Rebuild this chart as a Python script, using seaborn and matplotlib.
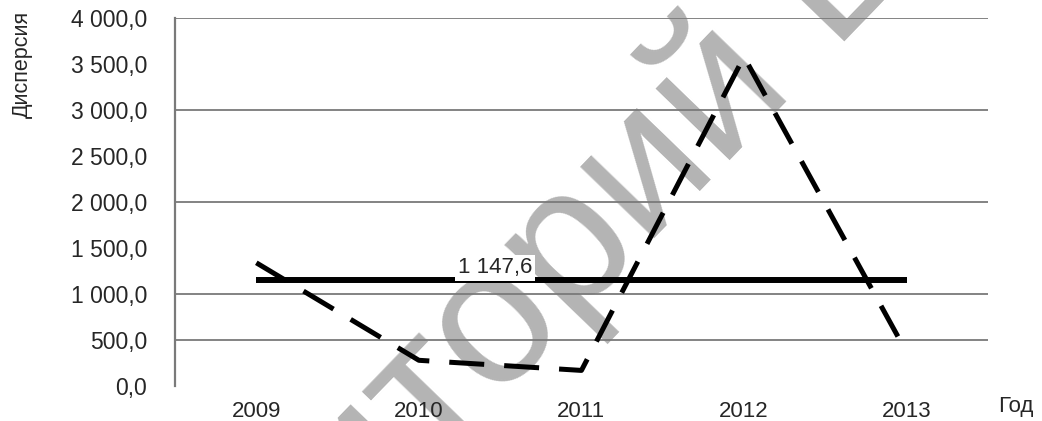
import pandas as pd
import matplotlib.pyplot as plt
import seaborn as sns

# values
years = ["2009", "2010", "2011", "2012", "2013"]
variance = [1340, 280, 170, 3580, 368]
mean_value = 1147.6
y_ticks = [0, 500, 1000, 1500, 2000, 2500, 3000, 3500, 4000]
grid_values = [500, 1000, 2000, 3000, 4000]
boundaries = [-0.5, 0.5, 1.5, 2.5, 3.5, 4.5]

df = pd.DataFrame({"year": years, "variance": variance})

sns.set_style("white")
plt.rcParams["font.family"] = ["Liberation Sans", "DejaVu Sans"]

fig = plt.figure(figsize=(10.42, 4.21), dpi=100)
ax = fig.add_axes([0.168, 0.083, 0.78, 0.874])

# watermark under the data
ax.text(0.525, 0.35, "Репозиторий БГЭУ", transform=fig.transFigure,
        fontsize=140, color="#b4b4b4", rotation=46, rotation_mode="anchor",
        ha="center", va="center", clip_on=False, zorder=0.5)

for v in grid_values:
    ax.axhline(v, color="#7a7a7a", lw=1.3, zorder=1)

sns.lineplot(data=df, x="year", y="variance", ax=ax, color="black",
             lw=3.6, dashes=False, zorder=3, linestyle=(0, (7, 4)))
ax.plot(years, [mean_value] * len(years), color="black", lw=4.3, zorder=3,
        solid_capstyle="butt")

ax.text(1.47, mean_value + 25, "1 147,6", fontsize=16, ha="center", va="bottom",
        zorder=4, bbox=dict(boxstyle="square,pad=0.12", fc="white", ec="none"))

ax.set_xlim(-0.5, 4.5)
ax.set_ylim(0, 4000)
ax.set_yticks(y_ticks)
ax.set_yticklabels([f"{v:,.1f}".replace(",", " ").replace(".", ",") for v in y_ticks],
                   fontsize=16.5)
ax.set_xticks(range(len(years)))
ax.set_xticklabels(years, fontsize=16)
ax.set_xticks(boundaries, minor=True)
ax.tick_params(axis="y", length=0, pad=20)
ax.tick_params(axis="x", which="major", length=0, pad=11)
ax.tick_params(axis="x", which="minor", length=7, width=1, color="#8a8a8a",
               direction="inout")

for side in ["top", "right", "bottom"]:
    ax.spines[side].set_visible(False)
ax.spines["left"].set_color("#7a7a7a")
ax.spines["left"].set_linewidth(1.6)

ax.set_xlabel("")
ax.set_ylabel("")
fig.text(0.021, 0.975, "Дисперсия", rotation=90, va="top", ha="center", fontsize=15.5)
fig.text(0.958, 0.035, "Год", fontsize=16, ha="left", va="center")

plt.savefig("out.png", dpi=100, facecolor="white")
